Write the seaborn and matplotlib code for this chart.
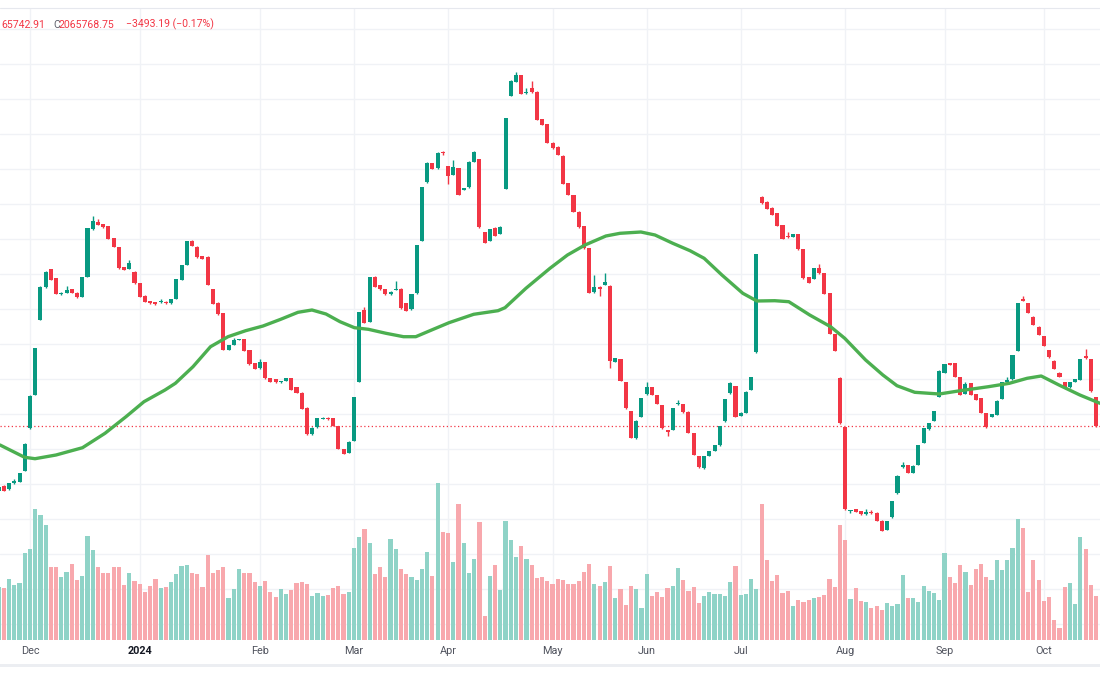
import numpy as np
import pandas as pd
import matplotlib
matplotlib.use("Agg")
import matplotlib.pyplot as plt
from matplotlib.lines import Line2D
from matplotlib.patches import Rectangle
import seaborn as sns

# =========================================================================
# DATOS (velas diarias, volumen y media móvil)
# =========================================================================
opens = [
    2059300, 2059800, 2059470, 2060070, 2060230, 2061300, 2065570, 2068900, 2076400, 2079670,
    2081470, 2080570, 2079000, 2079130, 2079470, 2079130, 2078730, 2080730, 2085470, 2086170,
    2086000, 2085770, 2084570, 2083670, 2081670, 2081500, 2081230, 2080070, 2078830, 2078300,
    2078200, 2078170, 2078230, 2078070, 2078500, 2080400, 2081900, 2084300, 2083730, 2082800,
    2082730, 2079470, 2078070, 2077070, 2073400, 2073900, 2074400, 2074470, 2073400, 2072070,
    2071570, 2072170, 2070570, 2070470, 2070170, 2070330, 2070600, 2069670, 2069130, 2067630,
    2064970, 2065670, 2066530, 2066630, 2066570, 2065800, 2063500, 2063130, 2064330, 2070230,
    2077400, 2076230, 2080730, 2079900, 2079470, 2078970, 2079400, 2079530, 2078070, 2077470,
    2079070, 2084330, 2090170, 2092070, 2091570, 2093230, 2091800, 2090900, 2091570, 2089400,
    2089670, 2092230, 2092470, 2085170, 2084330, 2085630, 2085000, 2089500, 2098830, 2100230,
    2100900, 2099070, 2099570, 2099230, 2096500, 2095970, 2094130, 2093730, 2092830, 2090070,
    2088900, 2087230, 2085800, 2083570, 2079170, 2079730, 2079900, 2079830, 2072230, 2072500,
    2070170, 2067300, 2064570, 2066730, 2068970, 2069670, 2068900, 2067900, 2065400, 2065400,
    2067970, 2067970, 2067230, 2065070, 2062800, 2061570, 2062800, 2063300, 2063870, 2066270,
    2069070, 2069800, 2066800, 2067130, 2069400, 2073170, 2088670, 2088230, 2087630, 2087070,
    2085900, 2084800, 2084730, 2084970, 2083470, 2080670, 2080500, 2081570, 2081070, 2079070,
    2075000, 2070630, 2065670, 2057300, 2057470, 2057300, 2056970, 2057230, 2057130, 2056330,
    2055400, 2056670, 2059070, 2061670, 2061900, 2061130, 2061900, 2064130, 2065470, 2066300,
    2068730, 2071130, 2072070, 2072070, 2070670, 2069000, 2070070, 2068970, 2068570, 2067070,
    2066730, 2066900, 2068530, 2070230, 2070470, 2073330, 2078500, 2078070, 2076730, 2075730,
    2074800, 2073400, 2072330, 2071130, 2070170, 2069670, 2070230, 2070400, 2072830, 2072500,
    2068670,
]
highs = [
    2059800, 2059870, 2060130, 2060500, 2061130, 2064070, 2068900, 2073630, 2079800, 2081330,
    2081530, 2080600, 2079200, 2079800, 2079500, 2079170, 2080700, 2085630, 2086770, 2086470,
    2086030, 2085800, 2084600, 2083700, 2081700, 2082400, 2081270, 2080100, 2078870, 2078330,
    2078230, 2078530, 2078270, 2078530, 2080500, 2081900, 2084330, 2084370, 2083770, 2082830,
    2082770, 2079500, 2078200, 2077100, 2073930, 2074600, 2074530, 2074500, 2073430, 2072100,
    2072500, 2072200, 2070600, 2070500, 2070330, 2070630, 2070630, 2069700, 2069170, 2067670,
    2065670, 2066600, 2066670, 2066670, 2066600, 2065830, 2063530, 2064270, 2068730, 2077200,
    2077700, 2080700, 2080830, 2079930, 2079500, 2079270, 2080330, 2079570, 2078100, 2079030,
    2083930, 2089700, 2092200, 2092100, 2093170, 2093270, 2091830, 2092400, 2091600, 2089600,
    2092270, 2093270, 2092500, 2085200, 2085530, 2085670, 2085830, 2096600, 2100370, 2101170,
    2100930, 2099570, 2100300, 2099270, 2096530, 2096000, 2094170, 2093770, 2092870, 2090100,
    2088930, 2087270, 2085830, 2083600, 2080900, 2079770, 2081070, 2079870, 2072600, 2072530,
    2070200, 2067330, 2066370, 2068600, 2070170, 2069700, 2068930, 2067930, 2065430, 2067600,
    2068400, 2068000, 2067270, 2065100, 2062830, 2062830, 2063330, 2063900, 2065830, 2068500,
    2070200, 2069830, 2067170, 2069270, 2070700, 2083030, 2088830, 2088270, 2087670, 2087100,
    2085930, 2085230, 2085000, 2085000, 2083500, 2080700, 2081600, 2082000, 2081100, 2079100,
    2075030, 2070670, 2065700, 2057430, 2057500, 2057330, 2057470, 2057430, 2057170, 2056370,
    2056330, 2058330, 2060870, 2062230, 2061930, 2061870, 2063930, 2065600, 2066100, 2067330,
    2071370, 2072030, 2072100, 2072100, 2070700, 2070230, 2070100, 2069000, 2068600, 2067100,
    2067030, 2068370, 2070200, 2070670, 2072930, 2078100, 2078800, 2078100, 2076770, 2075770,
    2074830, 2073430, 2072370, 2071170, 2070200, 2070200, 2070530, 2072530, 2073470, 2072530,
    2068700,
]
lows = [
    2059200, 2059270, 2059400, 2060030, 2060200, 2061270, 2065530, 2068870, 2076370, 2079630,
    2080370, 2078970, 2078900, 2079100, 2079100, 2078630, 2078700, 2080700, 2085430, 2085900,
    2085630, 2084500, 2083700, 2081530, 2081370, 2081470, 2080030, 2078700, 2078200, 2078030,
    2077870, 2078130, 2078030, 2078030, 2078470, 2080370, 2081870, 2083770, 2082630, 2082500,
    2079870, 2077970, 2076870, 2073370, 2073370, 2073870, 2074370, 2073300, 2071930, 2071470,
    2071530, 2070530, 2070200, 2070130, 2070130, 2070300, 2069370, 2069100, 2067470, 2064930,
    2064930, 2065630, 2066500, 2066430, 2065770, 2063470, 2062970, 2063100, 2064300, 2070200,
    2076100, 2076200, 2079700, 2079430, 2078930, 2078930, 2079370, 2077530, 2077300, 2077430,
    2079030, 2084300, 2090130, 2091470, 2091530, 2092870, 2090000, 2090870, 2088870, 2089370,
    2089630, 2092200, 2085630, 2084100, 2084300, 2084800, 2084970, 2089470, 2098800, 2100200,
    2098970, 2099030, 2099130, 2096370, 2095870, 2094100, 2093530, 2092870, 2089970, 2088870,
    2087200, 2085630, 2083530, 2079100, 2079130, 2078830, 2079870, 2071570, 2072200, 2070270,
    2067530, 2064600, 2064530, 2066700, 2068930, 2068870, 2067970, 2065530, 2064830, 2065370,
    2067930, 2067130, 2065100, 2062870, 2061630, 2061530, 2062770, 2063270, 2063830, 2066230,
    2069030, 2066700, 2066770, 2067100, 2069370, 2073130, 2088000, 2087470, 2086870, 2085800,
    2084470, 2084630, 2084700, 2083430, 2080530, 2080100, 2080470, 2081030, 2078970, 2074970,
    2073300, 2066030, 2057430, 2057070, 2057200, 2056930, 2056930, 2057030, 2056300, 2055270,
    2055370, 2056630, 2059030, 2061630, 2061100, 2061100, 2061870, 2064100, 2065430, 2066270,
    2068700, 2071100, 2071870, 2070700, 2068870, 2068970, 2068870, 2068370, 2067100, 2065630,
    2066700, 2066870, 2068500, 2070200, 2070430, 2073300, 2078270, 2077100, 2075870, 2074870,
    2073770, 2072630, 2071500, 2070700, 2069630, 2069630, 2070200, 2070370, 2072530, 2069200,
    2065742.91,
]
closes = [
    2059700, 2059330, 2060070, 2060300, 2061070, 2064000, 2068830, 2073570, 2079730, 2081230,
    2080400, 2079000, 2079130, 2079370, 2079130, 2078670, 2080670, 2085600, 2086300, 2085930,
    2085670, 2084530, 2083730, 2081570, 2081400, 2082130, 2080070, 2078730, 2078230, 2078070,
    2078000, 2078200, 2078070, 2078500, 2080470, 2081870, 2084300, 2083800, 2082670, 2082530,
    2079900, 2078000, 2077000, 2073400, 2073900, 2074400, 2074500, 2073330, 2071970, 2071500,
    2072170, 2070570, 2070230, 2070170, 2070300, 2070600, 2069400, 2069130, 2067500, 2064970,
    2065630, 2066570, 2066630, 2066470, 2065800, 2063500, 2063000, 2064230, 2068700, 2077170,
    2076130, 2080670, 2079730, 2079470, 2078970, 2079230, 2079470, 2077570, 2077330, 2079000,
    2083900, 2089670, 2092070, 2091500, 2093130, 2093070, 2090800, 2091670, 2088900, 2089570,
    2092230, 2093230, 2085670, 2084130, 2085500, 2084830, 2085730, 2096570, 2100330, 2100900,
    2099000, 2099170, 2099170, 2096400, 2095900, 2094130, 2093570, 2092900, 2090000, 2088900,
    2087230, 2085670, 2083570, 2079130, 2079730, 2079530, 2080230, 2072300, 2072570, 2070300,
    2067570, 2064630, 2066330, 2068570, 2069730, 2068900, 2068000, 2065570, 2065230, 2067570,
    2068070, 2067170, 2065130, 2062900, 2061670, 2062800, 2063300, 2063870, 2065800, 2068470,
    2070070, 2066730, 2067130, 2069230, 2070670, 2083000, 2088130, 2087500, 2086900, 2085830,
    2084500, 2084670, 2084970, 2083470, 2080570, 2080130, 2081570, 2081070, 2079000, 2075000,
    2073330, 2066070, 2057470, 2057400, 2057230, 2056970, 2057230, 2057070, 2056330, 2055300,
    2056300, 2058300, 2060830, 2061900, 2061130, 2061830, 2063900, 2065570, 2066070, 2067300,
    2071330, 2072000, 2071900, 2070730, 2068900, 2070000, 2068900, 2068400, 2067130, 2065670,
    2067000, 2068330, 2070170, 2070400, 2072900, 2078070, 2078300, 2077130, 2075900, 2074900,
    2073800, 2072670, 2071530, 2070730, 2069670, 2070170, 2070500, 2072500, 2072570, 2069261.94,
    2065768.75,
]
# volumen en miles
volume = [
    160, 155, 184, 165, 170, 262, 273, 393, 376, 344,
    218, 220, 189, 205, 228, 181, 192, 312, 270, 218,
    200, 202, 218, 220, 165, 200, 176, 168, 145, 162,
    184, 155, 158, 174, 197, 222, 225, 202, 197, 158,
    254, 202, 210, 220, 126, 152, 212, 200, 202, 173,
    162, 176, 144, 129, 152, 139, 150, 170, 173, 168,
    131, 141, 133, 134, 155, 162, 139, 144, 275, 309,
    333, 292, 197, 220, 189, 304, 272, 212, 197, 189,
    179, 212, 265, 192, 472, 323, 320, 234, 407, 292,
    200, 244, 354, 71, 191, 225, 150, 357, 299, 249,
    283, 244, 225, 186, 189, 177, 168, 182, 179, 168,
    168, 176, 205, 228, 168, 162, 174, 223, 126, 152,
    105, 163, 152, 95, 197, 131, 144, 129, 155, 161,
    215, 179, 147, 158, 110, 131, 144, 139, 139, 131,
    174, 223, 135, 139, 182, 152, 407, 239, 176, 194,
    141, 147, 102, 121, 113, 121, 126, 129, 134, 184,
    158, 344, 299, 123, 155, 118, 115, 95, 102, 89,
    110, 102, 108, 194, 126, 126, 113, 163, 147, 141,
    121, 262, 189, 171, 225, 205, 165, 212, 228, 189,
    179, 239, 210, 239, 275, 364, 335, 144, 241, 179,
    116, 129, 61, 35, 160, 171, 108, 309, 273, 165,
    131,
]
# media móvil (posición en barras, valor)
ma_idx = [0.26, 4.97, 6.96, 10.98, 16.05, 20.35, 24.37, 27.81, 31.83, 33.82,
          37.19, 40.54, 43.89, 47.26, 50.59, 53.97, 57.28, 59.96, 62.64, 65.32,
          68.08, 70.75, 74.12, 77.47, 79.82, 82.85, 86.18, 90.9, 95.55, 96.9,
          100.9, 105.5, 108.85, 112.2, 116.2, 118.9, 122.9, 125.6, 129.0, 132.3,
          135.0, 138.4, 142.4, 145.1, 148.5, 151.2, 155.2, 159.2, 161.9, 165.9,
          169.2, 171.9, 175.3, 180.0, 184.0, 189.4, 193.4, 196.8, 199.5, 202.9,
          206.9, 210.75]
ma_val = [2063900, 2062670, 2062530, 2062900, 2063630, 2065070, 2066730, 2068230, 2069400, 2070070,
          2071730, 2073730, 2074730, 2075330, 2075800, 2076470, 2077170, 2077400, 2077000, 2076230,
          2075630, 2075470, 2075070, 2074730, 2074730, 2075400, 2076130, 2076970, 2077330, 2077630,
          2079570, 2081570, 2082900, 2083900, 2084800, 2085070, 2085200, 2084900, 2084070, 2083330,
          2082570, 2080900, 2079070, 2078300, 2078330, 2078230, 2076900, 2075730, 2074570, 2072400,
          2070900, 2069830, 2069170, 2069000, 2069330, 2069730, 2070070, 2070570, 2070800, 2069900,
          2068900, 2068070]

month_idx = [6, 27, 50, 68, 86, 106, 124, 142, 162, 181, 200]
month_lbl = ["Dec", "2024", "Feb", "Mar", "Apr", "May", "Jun", "Jul", "Aug", "Sep", "Oct"]

# =========================================================================
# ESTILO
# =========================================================================
UP, DOWN = "#089981", "#f23645"
VOL_UP, VOL_DOWN = "#8fd3c7", "#f8a8ad"
GRID = "#f0f2f6"

sns.set_theme(style="white")
plt.rcParams["font.family"] = ["Roboto", "DejaVu Sans"]

df = pd.DataFrame({"o": opens, "h": highs, "l": lows, "c": closes, "v": volume})
df["i"] = np.arange(len(df))
df["dir"] = np.where(df["c"] >= df["o"], "up", "down")
colores = np.where(df["dir"] == "up", UP, DOWN)

fig = plt.figure(figsize=(11, 7), dpi=100)
ax = fig.add_axes([0, 60 / 700, 1, 632 / 700])

# =========================================================================
# VELAS + MEDIA MÓVIL
# =========================================================================
ax.vlines(df["i"], df["l"], df["h"], colors=colores, lw=1, zorder=2)
cuerpo = np.maximum((df["c"] - df["o"]).abs(), 90)
ax.bar(df["i"], cuerpo, bottom=np.minimum(df["o"], df["c"]), width=0.78,
       color=colores, linewidth=0, zorder=3)

sns.lineplot(x=ma_idx, y=ma_val, ax=ax, color="#4caf50", lw=2.4, zorder=4,
             solid_capstyle="round", solid_joinstyle="round")
ax.axhline(closes[-1], color=DOWN, lw=0.9, ls=(0, (1, 2)), zorder=1)

ax.set_xlim(0.26, 210.75)
ax.set_ylim(2044400, 2107600)
ax.set_yticks(np.arange(2105500, 2044000, -3500))
ax.set_xticks(month_idx)
ax.set_xticklabels(month_lbl)
ax.grid(True, color=GRID, lw=1)
ax.tick_params(axis="y", left=False, labelleft=False)
ax.tick_params(axis="x", length=0, pad=4, labelsize=7.8, labelcolor="#50535e")
for lab in ax.get_xticklabels():
    if lab.get_text() == "2024":
        lab.set_fontweight("bold")
        lab.set_color("#131722")
for s in ax.spines.values():
    s.set_visible(False)
ax.set_xlabel("")
ax.set_ylabel("")

# =========================================================================
# VOLUMEN
# =========================================================================
ax2 = ax.twinx()
sns.barplot(data=df, x="i", y="v", hue="dir", palette={"up": VOL_UP, "down": VOL_DOWN},
            native_scale=True, width=0.8, dodge=False, saturation=1, legend=False,
            errorbar=None, linewidth=0, ax=ax2)
ax2.set_ylim(0, 1896)
ax2.set_xlim(0.26, 210.75)
ax2.set_yticks([])
ax2.set_ylabel("")
for s in ax2.spines.values():
    s.set_visible(False)

# =========================================================================
# CABECERA Y MARCOS
# =========================================================================
ty = 1 - 24.5 / 700
fig.text(1 / 1100, ty, "65742.91", ha="left", va="center", color=DOWN, fontsize=7.6)
fig.text(53 / 1100, ty, "C", ha="left", va="center", color="#5d606b", fontsize=7.6)
fig.text(58.5 / 1100, ty, "2065768.75", ha="left", va="center", color=DOWN, fontsize=7.6)
fig.text(126 / 1100, ty, "\u22123493.19 (\u22120.17%)", ha="left", va="center", color=DOWN, fontsize=7.6)

fig.add_artist(Line2D([0, 1], [1 - 8 / 700] * 2, color="#e6e8ee", lw=0.8))
fig.add_artist(Rectangle((0, 1 - 667 / 700), 1, 3 / 700, transform=fig.transFigure,
                         color="#eceef2", lw=0))

fig.savefig("out.png", dpi=100)
